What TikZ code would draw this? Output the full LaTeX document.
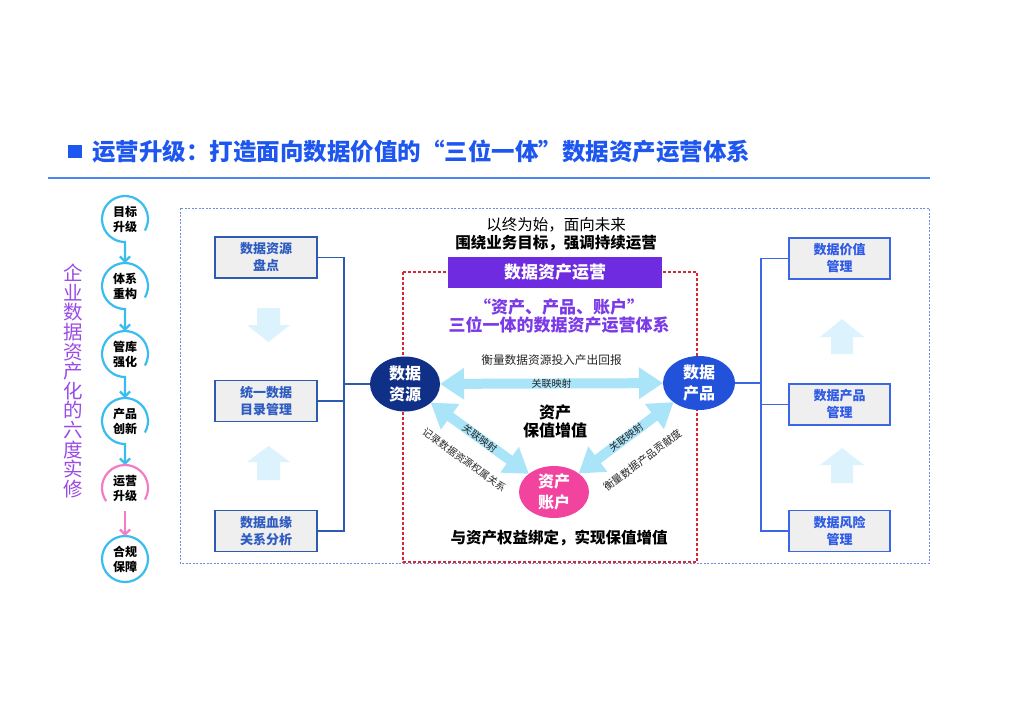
\documentclass[tikz,border=0pt]{standalone}
\usepackage{fontspec}
\setmainfont{Noto Sans CJK SC}
\usetikzlibrary{shapes.geometric,arrows.meta,calc}
\definecolor{titleblue}{HTML}{1E56F0}
\definecolor{lineblue}{HTML}{4D85F2}
\definecolor{cyanc}{HTML}{39BDF0}
\definecolor{pinkc}{HTML}{F37DC4}
\definecolor{vpurple}{HTML}{9A4BE6}
\definecolor{outerblue}{HTML}{6E8AE0}
\definecolor{lboxc}{HTML}{2E5AB0}
\definecolor{lboxtext}{HTML}{2E5CC0}
\definecolor{rboxc}{HTML}{3B66E6}
\definecolor{rboxtext}{HTML}{2F5BE6}
\definecolor{boxfill}{HTML}{EFEFEF}
\definecolor{palec}{HTML}{DCF3FD}
\definecolor{redc}{HTML}{D9262F}
\definecolor{bannerc}{HTML}{6F2BE0}
\definecolor{cpurple}{HTML}{7B3AE8}
\definecolor{navyc}{HTML}{102F86}
\definecolor{bluec}{HTML}{2352DA}
\definecolor{magc}{HTML}{F2439E}
\definecolor{arrowc}{HTML}{A9E4F8}
\newcommand{\fsz}[2]{\fontsize{#1}{#2}\selectfont}
\begin{document}
\begin{tikzpicture}[x=1pt,y=-1pt,
  flowc/.style={circle,minimum size=46pt,inner sep=0pt,outer sep=0pt,align=center,font=\fsz{12}{15}\bfseries},
  flowline/.style={line width=2.2pt,-{Straight Barb[length=5pt,width=10pt]}},
  lbox/.style={draw=lboxc,line width=1.8pt,fill=boxfill,minimum width=102pt,minimum height=41pt,inner sep=0pt,align=center,text=lboxtext,font=\fsz{13}{17}\bfseries},
  rbox/.style={draw=rboxc,line width=1.8pt,fill=boxfill,minimum width=101pt,minimum height=41pt,inner sep=0pt,align=center,text=rboxtext,font=\fsz{13}{17}\bfseries},
  bigell/.style={ellipse,inner sep=0pt,outer sep=0pt,align=center,text=white,font=\fsz{16}{21}\bfseries},
  dblarrow/.style={draw=arrowc,line width=10pt,{Triangle[width=30pt,length=24pt]}-{Triangle[width=30pt,length=24pt]}},
  lbl/.style={inner sep=0pt,font=\fsz{10}{12},text=black!85}
]
\useasboundingbox (0,0) rectangle (1024,724);
\fill[white] (0,0) rectangle (1024,724);

% title
\fill[titleblue] (68,145) rectangle (82,158);
\node[anchor=west,inner sep=0pt,text=titleblue,font=\fsz{23.5}{28}\bfseries] (title) at (92,152) {运营升级：打造面向数据价值的“三位一体”数据资产运营体系};
\draw[lineblue,line width=1.5pt] (48,178) -- (930,178);

% vertical text
\node[inner sep=0pt,text=vpurple,font=\fsz{19.5}{19.6},align=center] (vt) at (73,381) {企\\业\\数\\据\\资\\产\\化\\的\\六\\度\\实\\修};

% left flow
\node[flowc] (c1) at (125,219) {目标\\升级};
\node[flowc] (c2) at (125,286) {体系\\重构};
\node[flowc] (c3) at (125,354) {管库\\强化};
\node[flowc] (c4) at (125,421) {产品\\创新};
\node[flowc] (c5) at (125,488) {运营\\升级};
\node[flowc,draw=cyanc,line width=2.2pt] (c6) at (125,559) {合规\\保障};
\foreach \a/\b in {c1/c2,c2/c3,c3/c4,c4/c5}{
  \draw[cyanc,flowline] ($(\a)+(30:23)$) arc[start angle=30,end angle=-270,radius=23] -- (\b.north);
}
\draw[pinkc,line width=2.2pt] ($(c5)+(-215:23)$) arc[start angle=-215,end angle=30,radius=23];
\draw[pinkc,flowline] (c5.south) -- (c6.north);

% outer dashed frame
\draw[outerblue,line width=0.8pt,dash pattern=on 2pt off 1.5pt] (180,208) rectangle (929,563);

% left boxes
\node[lbox] (lb1) at (266,257.5) {数据资源\\盘点};
\node[lbox] (lb2) at (266,401) {统一数据\\目录管理};
\node[lbox] (lb3) at (266,531) {数据血缘\\关系分析};
% right boxes
\node[rbox] (rb1) at (839.5,258.5) {数据价值\\管理};
\node[rbox] (rb2) at (839.5,404.5) {数据产品\\管理};
\node[rbox] (rb3) at (839.5,531) {数据风险\\管理};

% pale arrows
\fill[palec] (257,308) -- (280,308) -- (280,325) -- (290,325) -- (268.5,342) -- (247,325) -- (257,325) -- cycle;
\fill[palec] (268.5,446) -- (290,462) -- (280,462) -- (280,480) -- (257,480) -- (257,462) -- (247,462) -- cycle;
\fill[palec] (842,319) -- (864,337) -- (853,337) -- (853,354) -- (831,354) -- (831,337) -- (820,337) -- cycle;
\fill[palec] (842,448) -- (864,465) -- (853,465) -- (853,483) -- (831,483) -- (831,465) -- (820,465) -- cycle;

% red dashed frame + banner
\draw[redc,line width=1.2pt,dash pattern=on 3pt off 2pt] (403,272) rectangle (697,562);
\node[fill=bannerc,minimum width=214pt,minimum height=31pt,inner sep=0pt,text=white,font=\fsz{17}{20}\bfseries] (banner) at (555,272.5) {数据资产运营};
\node[inner sep=0pt,font=\fsz{15.5}{18}] (t1) at (556,225) {以终为始，面向未来};
\node[inner sep=0pt,font=\fsz{15.5}{18}\bfseries] (t2) at (556,243) {围绕业务目标，强调持续运营};
\node[inner sep=0pt,text=cpurple,align=center,font=\fsz{17}{18}\bfseries] (t3) at (559,316) {“资产、产品、账户”\\三位一体的数据资产运营体系};

% ellipses
\node[bigell,fill=navyc,minimum width=70pt,minimum height=55pt] (ds) at (405,384) {数据\\资源};
\node[bigell,fill=bluec,minimum width=72pt,minimum height=54pt] (dp) at (699,383) {数据\\产品};
\node[bigell,fill=magc,minimum width=70pt,minimum height=52pt] (za) at (554,492) {资产\\账户};

% connectors from boxes
\coordinate (ljt) at (344,257.5);
\coordinate (ljb) at (344,531);
\draw[lboxc,line width=1.8pt] (lb1.east) -- (ljt) -- (ljb) -- (lb3.east);
\draw[lboxc,line width=1.8pt] (lb2.east) -- (lb2.east -| ljt);
\draw[lboxc,line width=1.8pt] (ljt |- ds.west) -- (ds.west);
\coordinate (rjt) at (761,258.5);
\coordinate (rjb) at (761,531);
\draw[rboxc,line width=1.8pt] (rb1.west) -- (rjt) -- (rjb) -- (rb3.west);
\draw[rboxc,line width=1.8pt] (rb2.west) -- (rb2.west -| rjt);
\draw[rboxc,line width=1.8pt] (rjt |- dp.east) -- (dp.east);

% double arrows
\draw[dblarrow] (ds) -- (dp)
  node[lbl,midway] {关联映射}
  node[lbl,midway,above=13pt,font=\fsz{11.7}{14}] {衡量数据资源投入产出回报};
\draw[dblarrow] (ds) -- (za)
  node[lbl,midway,sloped] {关联映射}
  node[lbl,midway,sloped,below=17pt,font=\fsz{10}{12}] {记录数据资源权属关系};
\draw[dblarrow] (za) -- (dp)
  node[lbl,midway,sloped] {关联映射}
  node[lbl,midway,sloped,below=18pt,font=\fsz{10.5}{12}] {衡量数据产品贡献度};

% center texts
\node[inner sep=0pt,align=center,font=\fsz{16}{18}\bfseries] (ct) at (555,421) {资产\\保值增值};
\node[inner sep=0pt,font=\fsz{15.5}{18}\bfseries] (bt) at (559,538) {与资产权益绑定，实现保值增值};
\end{tikzpicture}
\end{document}
